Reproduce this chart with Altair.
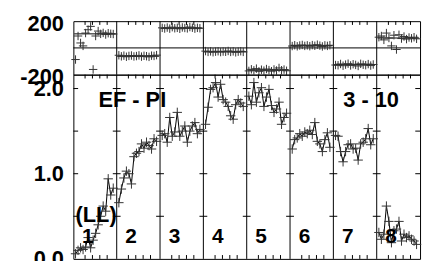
import altair as alt
import pandas as pd

# ---------------- data ----------------
segments = [1, 2, 3, 4, 5, 6, 7, 8]
seg_labels = ["1", "2", "3", "4", "5", "6", "7", "8"]

# bottom panel values (16 readings per segment)
s1 = [0.06, 0.10, 0.13, 0.11, 0.14, 0.25, 0.13, 0.22, 0.30, 0.40, 0.50, 0.62, 0.56, 0.94, 0.75, 0.83]
s2 = [0.66, 0.82, 0.95, 1.03, 1.00, 0.88, 1.20, 1.24, 1.26, 1.35, 1.30, 1.37, 1.33, 1.29, 1.41, 1.38]
s3 = [1.45, 1.47, 1.37, 1.66, 1.44, 1.49, 1.72, 1.44, 1.50, 1.56, 1.37, 1.50, 1.56, 1.60, 1.47, 1.52]
s4 = [1.58, 1.78, 1.99, 2.01, 2.07, 1.90, 2.05, 1.87, 1.84, 1.79, 1.68, 1.64, 1.81, 1.87, 1.83, 1.79]
s5 = [1.91, 1.81, 2.07, 1.84, 1.95, 2.01, 1.79, 1.90, 1.99, 1.80, 1.72, 1.76, 1.84, 1.58, 1.66, 1.71]
s6 = [1.29, 1.40, 1.42, 1.47, 1.44, 1.49, 1.47, 1.51, 1.46, 1.60, 1.38, 1.35, 1.26, 1.40, 1.48, 1.31]
s7 = [1.45, 1.44, 1.26, 1.14, 1.26, 1.34, 1.35, 1.29, 1.30, 1.16, 1.35, 1.37, 1.41, 1.53, 1.34, 1.41]
s8 = [0.31, 0.23, 0.29, 0.62, 0.44, 0.19, 0.33, 0.35, 0.44, 0.21, 0.29, 0.25, 0.27, 0.23, 0.21, 0.17]
bottom_values = [s1, s2, s3, s4, s5, s6, s7, s8]

# top panel values (16 readings per segment) and segment mean levels
t1 = [-87, 89, 37, 15, 111, 136, 161, -161, 89, 126, 105, 112, 100, 110, 106, 104]
t2 = [-55, -63, -58, -66, -60, -57, -64, -61, -56, -65, -59, -62, -67, -58, -60, -54]
t3 = [150, 145, 152, 144, 155, 147, 150, 143, 153, 149, 146, 156, 151, 144, 150, 147]
t4 = [-24, -30, -26, -32, -28, -25, -31, -27, -29, -23, -30, -26, -33, -28, -25, -30]
t5 = [-172, -160, -168, -155, -175, -163, -170, -158, -166, -174, -161, -169, -150, -167, -162, -171]
t6 = [14, 20, 12, 18, 22, 15, 19, 13, 21, 16, 24, 17, 11, 19, 15, 20]
t7 = [-128, -130, -120, -133, -125, -118, -131, -122, -127, -135, -119, -126, -129, -121, -132, -124]
t8 = [80, 89, 60, 111, 74, 15, 95, -12, 98, 70, 85, 66, 78, 72, 80, 68]
top_values = [t1, t2, t3, t4, t5, t6, t7, t8]
top_means = [105, -62, 148, -28, -165, 17, -124, 74]

bottom_ticks = [0.5, 1.0, 1.5, 2.0]
minor_fracs = [0.27, 0.44, 0.61, 0.78]
top_ticklabels = [-200, 200]
bottom_ticklabels = [0, 1, 2]

annotations = [("EF - PI", 1.36, 1.78), ("3 - 10", 6.87, 1.78), ("(LL)", 0.525, 0.43)]

# ---------------- tables ----------------
pts, tpts = [], []
for k, seg in enumerate(segments):
    for i, v in enumerate(bottom_values[k]):
        pts.append({"seg": seg, "x": seg - 1 + 0.05 + 0.058 * i, "y": v})
    for i, v in enumerate(top_values[k]):
        tpts.append({"seg": seg, "x": seg - 1 + 0.05 + 0.058 * i, "y": v})
pts = pd.DataFrame(pts)
tpts = pd.DataFrame(tpts)

means = pd.DataFrame({"x": [s - 1 + 0.02 for s in segments],
                      "x2": [s - 0.02 for s in segments],
                      "y": top_means})
dividers = pd.DataFrame({"x": segments[:-1]})

ymax = 2.163
hticks = []
for d in [0] + segments:
    for yv in bottom_ticks:
        if d == 0:
            a, b = 0, 0.11
        elif d == 8:
            a, b = 7.89, 8
        else:
            a, b = d - 0.09, d + 0.09
        hticks.append({"x": a, "x2": b, "y": yv})
hticks = pd.DataFrame(hticks)

xt = [s - 1 + f for s in segments for f in minor_fracs]
vt_bottom = pd.DataFrame(
    [{"x": v, "y": ymax, "y2": ymax - 0.045} for v in xt]
    + [{"x": v, "y": 0, "y2": 0.045} for v in xt])
vt_top = pd.DataFrame([{"x": v, "y": 200, "y2": 172} for v in xt])

labels = pd.DataFrame({"x": [s - 1 + 0.2 for s in segments], "y": [0.186] * 8, "t": seg_labels})
ann = pd.DataFrame([{"t": a, "x": b, "y": c} for a, b, c in annotations])

# ---------------- scales ----------------
W = 350
FONT = "Liberation Sans"
xs = alt.Scale(domain=[0, 8], nice=False, zero=False)
X = lambda f="x": alt.X(f"{f}:Q", scale=xs, axis=None)

ys_top = alt.Scale(domain=[-200, 200], nice=False, zero=False)
yax_top = alt.Axis(values=top_ticklabels, title=None, labelFlush=False, labelOverlap=False,
                   labelExpr="'' + datum.value", labelOffset=2)
ys_bot = alt.Scale(domain=[0, ymax], nice=False, zero=False)
yax_bot = alt.Axis(values=bottom_ticklabels, format=".1f", title=None, labelFlush=False,
                   labelOverlap=False)

cross = "M-1,0L1,0M0,-1L0,1"

# ---------------- top panel ----------------
top_pts = alt.Chart(tpts).mark_point(shape=cross, size=72, filled=False, stroke="#333",
                                     strokeWidth=1, opacity=1).encode(
    x=X(), y=alt.Y("y:Q", scale=ys_top, axis=yax_top))
top_zero = alt.Chart(pd.DataFrame({"y": [0]})).mark_rule(color="black", strokeWidth=1).encode(
    y=alt.Y("y:Q", scale=ys_top, axis=yax_top))
top_means_l = alt.Chart(means).mark_rule(color="black", strokeWidth=1).encode(
    x=X(), x2="x2:Q", y=alt.Y("y:Q", scale=ys_top, axis=yax_top))
top_div = alt.Chart(dividers).mark_rule(color="black", strokeWidth=1).encode(x=X())
top_vt = alt.Chart(vt_top).mark_rule(color="black", strokeWidth=1).encode(
    x=X(), y=alt.Y("y:Q", scale=ys_top, axis=yax_top), y2="y2:Q")

top = alt.layer(top_zero, top_div, top_vt, top_means_l, top_pts).properties(width=W, height=54)

# ---------------- bottom panel ----------------
b_div = alt.Chart(dividers).mark_rule(color="black", strokeWidth=1).encode(x=X())
b_ht = alt.Chart(hticks).mark_rule(color="black", strokeWidth=1).encode(
    x=X(), x2="x2:Q", y=alt.Y("y:Q", scale=ys_bot, axis=yax_bot))
b_vt = alt.Chart(vt_bottom).mark_rule(color="black", strokeWidth=1).encode(
    x=X(), y=alt.Y("y:Q", scale=ys_bot, axis=yax_bot), y2="y2:Q")
b_line = alt.Chart(pts).mark_line(color="black", strokeWidth=1).encode(
    x=X(), y=alt.Y("y:Q", scale=ys_bot, axis=yax_bot), detail="seg:N")
b_pts = alt.Chart(pts).mark_point(shape=cross, size=90, filled=False, stroke="#333",
                                  strokeWidth=1, opacity=1).encode(
    x=X(), y=alt.Y("y:Q", scale=ys_bot, axis=yax_bot))
b_lab = alt.Chart(labels).mark_text(font=FONT, fontWeight="bold", fontSize=21, align="left",
                                    baseline="alphabetic", color="black").encode(
    x=X(), y=alt.Y("y:Q", scale=ys_bot, axis=yax_bot), text="t:N")
b_ann = alt.Chart(ann).mark_text(font=FONT, fontWeight="bold", fontSize=22, align="center",
                                 baseline="alphabetic", color="black").encode(
    x=X(), y=alt.Y("y:Q", scale=ys_bot, axis=yax_bot), text="t:N")

bottom = alt.layer(b_div, b_ht, b_vt, b_line, b_pts, b_lab, b_ann).properties(width=W, height=186)

chart = alt.vconcat(top, bottom, spacing=0, bounds="flush").resolve_scale(y="independent").properties(
    padding={"left": 5, "top": 2, "right": 0, "bottom": 5}
).configure_view(stroke="black", strokeWidth=1).configure_axis(
    labelFont=FONT, labelFontWeight="bold", labelFontSize=22, labelColor="black",
    domain=False, ticks=False, grid=False, labelPadding=10, minExtent=60, maxExtent=60
)

chart.save("out.html", embed_options={"renderer": "svg", "actions": False})
